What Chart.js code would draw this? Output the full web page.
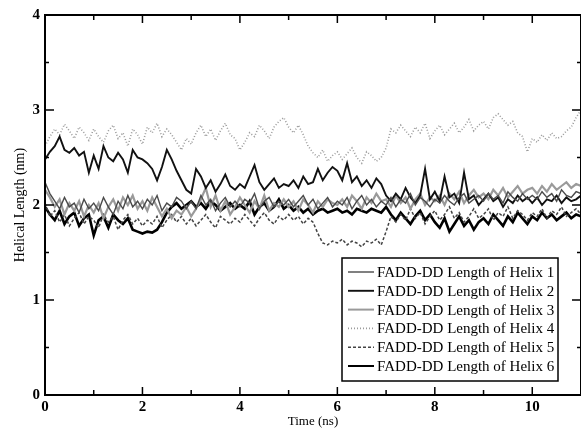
<!DOCTYPE html>
<html lang="en">
<head>
    <meta charset="UTF-8">
    <title>FADD-DD Helical Length</title>
    <script src="https://cdn.jsdelivr.net/npm/chart.js"></script>
    <style>
        body { margin: 0; background: #fff; }
    </style>
</head>
<body>

<canvas id="helixChart" width="581" height="429"></canvas>

<script>
    // time points (ns), one every 0.1 ns
    const times = [
        0.0, 0.1, 0.2, 0.3, 0.4, 0.5, 0.6, 0.7, 0.8, 0.9,
        1.0, 1.1, 1.2, 1.3, 1.4, 1.5, 1.6, 1.7, 1.8, 1.9,
        2.0, 2.1, 2.2, 2.3, 2.4, 2.5, 2.6, 2.7, 2.8, 2.9,
        3.0, 3.1, 3.2, 3.3, 3.4, 3.5, 3.6, 3.7, 3.8, 3.9,
        4.0, 4.1, 4.2, 4.3, 4.4, 4.5, 4.6, 4.7, 4.8, 4.9,
        5.0, 5.1, 5.2, 5.3, 5.4, 5.5, 5.6, 5.7, 5.8, 5.9,
        6.0, 6.1, 6.2, 6.3, 6.4, 6.5, 6.6, 6.7, 6.8, 6.9,
        7.0, 7.1, 7.2, 7.3, 7.4, 7.5, 7.6, 7.7, 7.8, 7.9,
        8.0, 8.1, 8.2, 8.3, 8.4, 8.5, 8.6, 8.7, 8.8, 8.9,
        9.0, 9.1, 9.2, 9.3, 9.4, 9.5, 9.6, 9.7, 9.8, 9.9,
        10.0, 10.1, 10.2, 10.3, 10.4, 10.5, 10.6, 10.7, 10.8, 10.9, 11.0
    ];

    const helix1 = [
        2.24, 2.12, 2.04, 1.96, 2.08, 1.98, 2.02, 1.92, 2.06, 1.96,
        2.02, 1.94, 2.08, 1.98, 1.90, 2.04, 1.96, 2.10, 1.98, 2.04,
        1.96, 2.06, 2.00, 2.10, 1.94, 2.02, 1.98, 2.08, 2.04, 1.96,
        2.04, 1.96, 2.10, 2.00, 2.06, 1.94, 2.02, 2.08, 1.98, 2.04,
        1.98, 2.06, 2.02, 2.12, 1.96, 2.04, 2.08, 1.98, 2.04, 2.00,
        2.06, 1.98, 2.04, 2.10, 2.00, 2.06, 1.96, 2.02, 2.08, 1.98,
        2.04, 2.00, 2.08, 1.96, 2.04, 2.10, 2.00, 2.06, 1.98, 2.04,
        2.00, 2.08, 1.98, 2.06, 2.02, 2.12, 2.00, 2.08, 2.04, 1.98,
        2.06, 2.02, 2.10, 2.04, 2.00, 2.08, 2.12, 2.02, 2.06, 2.10,
        2.04, 2.12, 2.06, 2.10, 2.02, 2.14, 2.08, 2.04, 2.12, 2.06,
        2.10, 2.06, 2.14, 2.08, 2.12, 2.04, 2.16, 2.10, 2.08, 2.14, 2.12
    ];

    const helix2 = [
        2.48, 2.56, 2.62, 2.72, 2.58, 2.55, 2.60, 2.52, 2.56, 2.34,
        2.52, 2.38, 2.62, 2.50, 2.46, 2.55, 2.48, 2.34, 2.58, 2.50,
        2.48, 2.44, 2.38, 2.26, 2.40, 2.58, 2.48, 2.36, 2.26, 2.16,
        2.12, 2.38, 2.30, 2.18, 2.26, 2.14, 2.22, 2.32, 2.20, 2.16,
        2.22, 2.18, 2.30, 2.42, 2.24, 2.16, 2.22, 2.28, 2.18, 2.22,
        2.20, 2.26, 2.18, 2.30, 2.22, 2.24, 2.38, 2.26, 2.34, 2.40,
        2.36, 2.26, 2.44, 2.24, 2.30, 2.20, 2.26, 2.18, 2.28, 2.22,
        2.10, 2.04, 2.12, 2.06, 2.18, 2.08, 2.02, 2.10, 2.38, 2.06,
        2.14, 2.04, 2.30, 2.08, 2.12, 2.02, 2.34, 2.06, 2.10, 2.00,
        2.06, 2.12, 2.04, 2.08, 1.98, 2.06, 2.02, 2.10, 2.04, 2.08,
        2.02, 2.08, 2.00, 2.06, 2.04, 2.10, 2.02, 2.08, 2.04, 2.06, 2.10
    ];

    const helix3 = [
        2.16, 2.08, 1.98, 2.06, 1.90, 2.02, 1.94, 2.04, 1.88, 2.00,
        1.92, 2.02, 1.86, 1.98, 2.06, 1.94, 2.08, 2.00, 2.10, 1.96,
        2.04, 1.94, 2.08, 1.98, 1.88, 1.96, 1.86, 1.94, 1.90, 1.98,
        1.88, 1.96, 2.06, 2.18, 1.98, 2.10, 1.94, 2.04, 1.90, 1.98,
        2.08, 2.00, 1.92, 2.04, 1.96, 2.10, 1.94, 2.02, 1.98, 2.06,
        1.98, 2.04, 1.94, 2.06, 2.00, 1.92, 2.04, 1.98, 2.06, 2.02,
        2.00, 2.06, 1.98, 2.10, 2.04, 1.96, 2.08, 2.02, 2.12, 2.04,
        2.06, 1.98, 2.10, 2.02, 2.08, 1.96, 2.06, 2.12, 2.00, 2.08,
        2.04, 2.10, 2.00, 2.12, 2.06, 2.14, 2.02, 2.10, 2.16, 2.08,
        2.12, 2.06, 2.16, 2.10, 2.18, 2.08, 2.14, 2.20, 2.12, 2.16,
        2.18, 2.12, 2.20, 2.14, 2.22, 2.16, 2.20, 2.24, 2.18, 2.22, 2.20
    ];

    const helix4 = [
        2.62, 2.72, 2.80, 2.74, 2.85, 2.78, 2.70, 2.82, 2.76, 2.68,
        2.80, 2.72, 2.66, 2.78, 2.84, 2.70, 2.76, 2.62, 2.80, 2.74,
        2.64, 2.82, 2.76, 2.86, 2.72, 2.80, 2.74, 2.66, 2.58, 2.70,
        2.64, 2.76, 2.84, 2.72, 2.80, 2.68, 2.78, 2.86, 2.74, 2.70,
        2.58, 2.66, 2.76, 2.72, 2.84, 2.78, 2.70, 2.82, 2.88, 2.92,
        2.82, 2.76, 2.84, 2.74, 2.62, 2.55, 2.50, 2.58, 2.46, 2.52,
        2.56, 2.48, 2.54, 2.60, 2.50, 2.44, 2.56, 2.52, 2.46, 2.50,
        2.60, 2.80, 2.76, 2.84, 2.78, 2.72, 2.82, 2.76, 2.86, 2.70,
        2.78, 2.84, 2.74, 2.80, 2.86, 2.76, 2.82, 2.90, 2.78, 2.84,
        2.88, 2.80, 2.92, 2.96, 2.90, 2.84, 2.88, 2.76, 2.72, 2.56,
        2.70, 2.66, 2.74, 2.68, 2.76, 2.70, 2.72, 2.78, 2.82, 2.92, 3.00
    ];

    const helix5 = [
        2.02, 1.88, 1.94, 1.82, 1.90, 1.78, 1.86, 1.92, 1.80, 1.88,
        1.84, 1.76, 1.90, 1.82, 1.88, 1.74, 1.84, 1.90, 1.80, 1.86,
        1.78, 1.84, 1.80, 1.88, 1.76, 1.84, 1.90, 1.82, 1.88, 1.80,
        1.86, 1.78, 1.84, 1.90, 1.82, 1.76, 1.88, 1.84, 1.80, 1.86,
        1.82, 1.90, 1.84, 1.78, 1.86, 1.92, 1.84, 1.80, 1.88, 1.84,
        1.90, 1.84, 1.88, 1.80, 1.86, 1.82, 1.70, 1.60, 1.58, 1.62,
        1.60, 1.64, 1.58, 1.62, 1.60, 1.56, 1.62, 1.60, 1.64, 1.58,
        1.72, 1.88, 1.82, 1.90, 1.84, 1.96, 1.86, 1.92, 1.80, 1.88,
        1.94, 1.84, 1.90, 1.98, 1.86, 1.92, 1.82, 1.88, 1.96, 1.86,
        1.90, 1.96, 1.84, 1.92, 1.88, 1.98, 1.86, 1.94, 1.90, 1.84,
        1.92, 1.88, 1.96, 1.86, 1.94, 1.90, 1.98, 1.88, 1.92, 1.96, 1.90
    ];

    const helix6 = [
        1.98, 1.90, 1.84, 1.94, 1.80, 1.88, 1.92, 1.78, 1.86, 1.90,
        1.68, 1.84, 1.88, 1.76, 1.90, 1.84, 1.80, 1.86, 1.74, 1.72,
        1.70, 1.72, 1.71, 1.74, 1.82, 1.92, 1.98, 2.02, 1.96, 2.00,
        2.04, 1.98, 2.02, 1.96, 2.04, 2.00, 1.94, 1.98, 2.02, 1.96,
        2.00, 1.96, 2.04, 1.90, 1.98, 2.02, 1.94, 1.98, 2.06, 1.96,
        2.00, 1.94, 1.98, 1.92, 1.96, 1.90, 1.94, 1.96, 1.92, 1.94,
        1.96, 1.92, 1.94, 1.90, 1.96, 1.94, 1.92, 1.96, 1.94, 1.92,
        1.98, 1.90, 1.84, 1.92, 1.86, 1.80, 1.88, 1.94, 1.84, 1.90,
        1.82, 1.76, 1.86, 1.72, 1.80, 1.88, 1.78, 1.84, 1.74, 1.82,
        1.86, 1.80, 1.90, 1.84, 1.78, 1.88, 1.82, 1.92, 1.86, 1.80,
        1.88, 1.84, 1.92, 1.86, 1.90, 1.84, 1.88, 1.92, 1.86, 1.90, 1.88
    ];

    const seriesNames = [
        'FADD-DD Length of Helix 1',
        'FADD-DD Length of Helix 2',
        'FADD-DD Length of Helix 3',
        'FADD-DD Length of Helix 4',
        'FADD-DD Length of Helix 5',
        'FADD-DD Length of Helix 6'
    ];

    const xTicks = [0, 2, 4, 6, 8, 10];
    const yTicks = [0, 1, 2, 3, 4];

    const serif = "'Liberation Serif', 'DejaVu Serif', serif";

    function toPoints(values) {
        return values.map((v, i) => ({ x: times[i], y: v }));
    }

    // frame with inward ticks on all four sides
    const framePlugin = {
        id: 'frame',
        afterDatasetsDraw(chart) {
            const { ctx, chartArea: a, scales } = chart;
            ctx.save();
            ctx.strokeStyle = '#000';
            ctx.lineWidth = 2;
            ctx.strokeRect(a.left, a.top, a.right - a.left, a.bottom - a.top);
            ctx.lineWidth = 1.5;
            ctx.beginPath();
            for (let t = 0; t <= 11; t++) {
                const px = scales.x.getPixelForValue(t);
                const len = t % 2 === 0 ? 8 : 5;
                ctx.moveTo(px, a.bottom); ctx.lineTo(px, a.bottom - len);
                ctx.moveTo(px, a.top); ctx.lineTo(px, a.top + len);
            }
            for (let v = 0; v <= 4; v += 0.5) {
                const py = scales.y.getPixelForValue(v);
                const len = v % 1 === 0 ? 9 : 4;
                ctx.moveTo(a.left, py); ctx.lineTo(a.left + len, py);
                ctx.moveTo(a.right, py); ctx.lineTo(a.right - len, py);
            }
            ctx.stroke();
            ctx.restore();
        }
    };

    // boxed legend inside the lower right of the plot
    const legendBoxPlugin = {
        id: 'legendBox',
        afterDraw(chart) {
            const { ctx, chartArea: a } = chart;
            const right = a.right - 23;
            const bottom = a.bottom - 14;
            const w = 216, h = 123;
            const left = right - w, top = bottom - h;
            ctx.save();
            ctx.fillStyle = '#fff';
            ctx.fillRect(left, top, w, h);
            ctx.strokeStyle = '#000';
            ctx.lineWidth = 1.5;
            ctx.strokeRect(left, top, w, h);
            ctx.font = '15px ' + serif;
            ctx.textBaseline = 'middle';
            chart.data.datasets.forEach((ds, i) => {
                const y = top + 14 + i * 18.8;
                ctx.strokeStyle = ds.borderColor;
                ctx.lineWidth = Math.min(ds.borderWidth, 2);
                ctx.setLineDash(ds.borderDash || []);
                ctx.beginPath();
                ctx.moveTo(left + 6, y);
                ctx.lineTo(left + 32, y);
                ctx.stroke();
                ctx.setLineDash([]);
                ctx.fillStyle = '#000';
                ctx.fillText(ds.label, left + 35, y + 1);
            });
            ctx.restore();
        }
    };

    const styles = [
        { color: '#4a4a4a', width: 1.4, dash: [] },
        { color: '#111111', width: 1.9, dash: [] },
        { color: '#9a9a9a', width: 2.2, dash: [] },
        { color: '#9c9c9c', width: 1.6, dash: [1, 2] },
        { color: '#444444', width: 1.5, dash: [3, 2] },
        { color: '#000000', width: 2.6, dash: [] }
    ];

    const allSeries = [helix1, helix2, helix3, helix4, helix5, helix6];

    const ctx = document.getElementById('helixChart').getContext('2d');
    new Chart(ctx, {
        type: 'line',
        data: {
            datasets: allSeries.map((vals, i) => ({
                label: seriesNames[i],
                data: toPoints(vals),
                borderColor: styles[i].color,
                borderWidth: styles[i].width,
                borderDash: styles[i].dash,
                pointRadius: 0,
                tension: 0,
                fill: false
            }))
        },
        options: {
            responsive: false,
            animation: false,
            layout: { padding: { top: 15, right: 0, left: 0, bottom: 0 } },
            plugins: {
                legend: { display: false },
                tooltip: { enabled: false }
            },
            scales: {
                x: {
                    type: 'linear',
                    min: 0,
                    max: 11,
                    afterFit(scale) { scale.height = 34; },
                    afterBuildTicks(scale) { scale.ticks = xTicks.map(v => ({ value: v })); },
                    grid: { display: false, drawTicks: false },
                    border: { display: false },
                    ticks: {
                        padding: 3,
                        color: '#000',
                        font: { family: serif, size: 15, weight: 'bold' }
                    },
                    title: {
                        display: true,
                        text: 'Time (ns)',
                        color: '#000',
                        padding: 0,
                        font: { family: serif, size: 13 }
                    }
                },
                y: {
                    min: 0,
                    max: 4,
                    afterFit(scale) { scale.width = 45; },
                    afterBuildTicks(scale) { scale.ticks = yTicks.map(v => ({ value: v })); },
                    grid: { display: false, drawTicks: false },
                    border: { display: false },
                    ticks: {
                        padding: 5,
                        color: '#000',
                        font: { family: serif, size: 15, weight: 'bold' }
                    },
                    title: {
                        display: true,
                        text: 'Helical Length (nm)',
                        color: '#000',
                        padding: 12,
                        font: { family: serif, size: 14 }
                    }
                }
            }
        },
        plugins: [framePlugin, legendBoxPlugin]
    });
</script>

</body>
</html>
